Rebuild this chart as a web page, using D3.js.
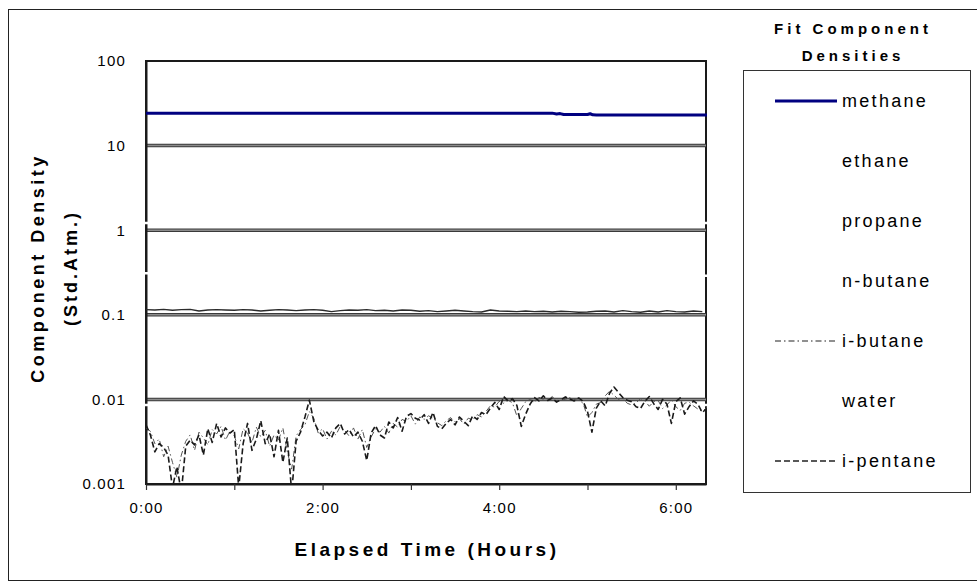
<!DOCTYPE html>
<html>
<head>
<meta charset="utf-8">
<script src="https://cdn.jsdelivr.net/npm/d3@7"></script>
<style>
    body { margin: 0; background: #fff; }
    svg { display: block; font-family: "Liberation Sans", Arial, sans-serif; }
</style>
</head>
<body>
<svg id="chart" width="977" height="588"></svg>
<script>
// logging interval of the gas analyser, hours (3 minutes)
const timeStepHours = 0.05;

const hourTicks = [0, 1, 2, 3, 4, 5, 6];
const hourLabels = ["0:00", "", "2:00", "", "4:00", "", "6:00"];
const densityTicks = [100, 10, 1, 0.1, 0.01, 0.001];
const gridValues = [10, 1, 0.1, 0.01];

const seriesNames = ["methane", "ethane", "propane", "n-butane", "i-butane", "water", "i-pentane"];

// methane is flat, only the step near 4:40 - 5:05 matters
const methaneTimes = [0, 4.60, 4.65, 4.69, 4.73, 4.78, 5.00, 5.03, 5.06, 5.10, 6.40];
const methaneValues = [24.2, 24.2, 23.6, 23.9, 23.3, 23.3, 23.3, 23.8, 23.1, 23.0, 23.0];

const ethaneTimes = [0, 6.40];
const ethaneValues = [1.22, 1.22];

const propaneTimes = [0, 6.40];
const propaneValues = [0.31, 0.29];

const waterTimes = [0, 6.40];
const waterValues = [0.0086, 0.0086];

// n-butane sampled every 6 minutes
const nButaneStepHours = 0.1;
const nButaneValues = [
    0.115, 0.114, 0.116, 0.113, 0.115, 0.116, 0.111, 0.114, 0.115, 0.114,
    0.113, 0.115, 0.114, 0.111, 0.113, 0.115, 0.114, 0.112, 0.114, 0.115,
    0.113, 0.109, 0.112, 0.114, 0.113, 0.115, 0.112, 0.113, 0.111, 0.114,
    0.113, 0.110, 0.112, 0.109, 0.111, 0.113, 0.111, 0.109, 0.108, 0.114,
    0.111, 0.110, 0.109, 0.111, 0.109, 0.110, 0.108, 0.110, 0.109, 0.107,
    0.108, 0.110, 0.111, 0.108, 0.112, 0.109, 0.107, 0.111, 0.108, 0.112,
    0.109, 0.108, 0.111, 0.109
];

const iButaneValues = [
    0.0046, 0.0042, 0.0030, 0.0034, 0.0021, 0.0028, 0.0018, 0.0012, 0.0022, 0.0032,
    0.0038, 0.0025, 0.0041, 0.0035, 0.0029, 0.0044, 0.0039, 0.0048, 0.0033, 0.0042,
    0.0037, 0.0026, 0.0045, 0.0040, 0.0031, 0.0047, 0.0036, 0.0043, 0.0028, 0.0038,
    0.0033, 0.0046, 0.0024, 0.0015, 0.0037, 0.0044, 0.0050, 0.0072, 0.0060, 0.0040,
    0.0045, 0.0034, 0.0042, 0.0038, 0.0048, 0.0043, 0.0037, 0.0046, 0.0034, 0.0044,
    0.0027, 0.0036, 0.0045, 0.0041, 0.0048, 0.0040, 0.0052, 0.0047, 0.0058, 0.0055,
    0.0064, 0.0051, 0.0062, 0.0058, 0.0064, 0.0060, 0.0053, 0.0049, 0.0056, 0.0061,
    0.0054, 0.0059, 0.0051, 0.0060, 0.0057, 0.0066, 0.0062, 0.0072, 0.0084, 0.0081,
    0.0095, 0.0090, 0.0098, 0.0091, 0.0064, 0.0078, 0.0094, 0.0101, 0.0092, 0.0106,
    0.0100, 0.0097, 0.0108, 0.0096, 0.0102, 0.0099, 0.0105, 0.0100, 0.0098, 0.0090,
    0.0062, 0.0070, 0.0088, 0.0092, 0.0110, 0.0125, 0.0112, 0.0100, 0.0103, 0.0090,
    0.0086, 0.0091, 0.0102, 0.0096, 0.0083, 0.0094, 0.0097, 0.0078, 0.0086, 0.0099,
    0.0082, 0.0074, 0.0090, 0.0093, 0.0084, 0.0077, 0.0072, 0.0080
];

const iPentaneValues = [
    0.0050, 0.0038, 0.0024, 0.0030, 0.0027, 0.0022, 0.0009, 0.0016, 0.0008, 0.0028,
    0.0033, 0.0029, 0.0038, 0.0022, 0.0045, 0.0031, 0.0052, 0.0036, 0.0046, 0.0040,
    0.0044, 0.0009, 0.0030, 0.0052, 0.0025, 0.0034, 0.0056, 0.0030, 0.0039, 0.0021,
    0.0043, 0.0018, 0.0035, 0.0008, 0.0032, 0.0041, 0.0062, 0.0098, 0.0055, 0.0043,
    0.0037, 0.0041, 0.0035, 0.0046, 0.0052, 0.0039, 0.0044, 0.0036, 0.0041, 0.0032,
    0.0019, 0.0040, 0.0049, 0.0038, 0.0035, 0.0054, 0.0046, 0.0061, 0.0042, 0.0063,
    0.0068, 0.0060, 0.0057, 0.0066, 0.0052, 0.0070, 0.0048, 0.0045, 0.0052, 0.0058,
    0.0050, 0.0062, 0.0055, 0.0049, 0.0064, 0.0058, 0.0070, 0.0066, 0.0079, 0.0092,
    0.0076, 0.0108, 0.0096, 0.0102, 0.0085, 0.0048, 0.0067, 0.0088, 0.0105, 0.0096,
    0.0110, 0.0097, 0.0104, 0.0093, 0.0099, 0.0107, 0.0101, 0.0096, 0.0104, 0.0095,
    0.0072, 0.0041, 0.0079, 0.0096, 0.0084, 0.0118, 0.0140, 0.0121, 0.0105, 0.0098,
    0.0094, 0.0082, 0.0078, 0.0095, 0.0108, 0.0089, 0.0076, 0.0100, 0.0088, 0.0052,
    0.0094, 0.0104, 0.0067, 0.0082, 0.0096, 0.0088, 0.0070, 0.0078
];

let width = 977;
let height = 588;
let plot = { left: 146, top: 61, right: 706, bottom: 484 };
let textColor = "#000";

function toPoints(times, values) {
    let points = [];
    for (var i = 0; i < values.length; i++) {
        points.push({ "t": times[i], "v": values[i] });
    }
    return points;
}

function toSampledPoints(step, values) {
    let points = [];
    for (var i = 0; i < values.length; i++) {
        points.push({ "t": i * step, "v": values[i] });
    }
    return points;
}

let series = [
    { name: "methane", points: toPoints(methaneTimes, methaneValues), color: "#000080", width: 3, dash: null },
    { name: "ethane", points: toPoints(ethaneTimes, ethaneValues), color: "#ffffff", width: 2.5, dash: null },
    { name: "propane", points: toPoints(propaneTimes, propaneValues), color: "#ffffff", width: 2.5, dash: null },
    { name: "n-butane", points: toSampledPoints(nButaneStepHours, nButaneValues), color: "#2b2b2b", width: 1.4, dash: null },
    { name: "water", points: toPoints(waterTimes, waterValues), color: "#ffffff", width: 2.5, dash: null },
    { name: "i-butane", points: toSampledPoints(timeStepHours, iButaneValues), color: "#555555", width: 1, dash: "6,3,1.5,3" },
    { name: "i-pentane", points: toSampledPoints(timeStepHours, iPentaneValues), color: "#1a1a1a", width: 1.6, dash: "6,3" }
];

// legend samples follow the original ordering
let legendStyle = {
    "methane": { color: "#000080", width: 3, dash: null },
    "ethane": { color: "#ffffff", width: 2, dash: null },
    "propane": { color: "#ffffff", width: 2, dash: null },
    "n-butane": { color: "#ffffff", width: 2, dash: null },
    "i-butane": { color: "#222222", width: 1.2, dash: "6,3,1.5,3" },
    "water": { color: "#ffffff", width: 2, dash: null },
    "i-pentane": { color: "#222222", width: 1.5, dash: "6,3" }
};

let svg = d3.select("#chart");

svg.append("rect")
    .attr("width", width)
    .attr("height", height)
    .attr("fill", "#fff");

// outer chart border
svg.append("rect")
    .attr("x", 8.5)
    .attr("y", 9.5)
    .attr("width", 985)
    .attr("height", 571)
    .attr("fill", "none")
    .attr("stroke", "#222")
    .attr("stroke-width", 1);

let xScale = d3.scaleLinear()
    .domain([0, 6.342])
    .range([plot.left, plot.right]);

let yScale = d3.scaleLog()
    .domain([0.001, 100])
    .range([plot.bottom, plot.top]);

// plot frame
svg.append("rect")
    .attr("x", plot.left)
    .attr("y", plot.top)
    .attr("width", plot.right - plot.left)
    .attr("height", plot.bottom - plot.top)
    .attr("fill", "#fff")
    .attr("stroke", "#1a1a1a")
    .attr("stroke-width", 2);

// add gridlines (grey with dark edges)
svg.selectAll(".gridOuter")
    .data(gridValues)
    .enter()
    .append("line")
    .attr("x1", plot.left)
    .attr("x2", plot.right)
    .attr("y1", function(d) { return yScale(d); })
    .attr("y2", function(d) { return yScale(d); })
    .attr("stroke", "#3a3a3a")
    .attr("stroke-width", 3.5);
svg.selectAll(".gridInner")
    .data(gridValues)
    .enter()
    .append("line")
    .attr("x1", plot.left)
    .attr("x2", plot.right)
    .attr("y1", function(d) { return yScale(d); })
    .attr("y2", function(d) { return yScale(d); })
    .attr("stroke", "#8c8c8c")
    .attr("stroke-width", 1.5);

// x axis
let xAxis = svg.append("g")
    .attr("class", "x_axis")
    .attr("transform", "translate(0," + plot.bottom + ")")
    .call(d3.axisBottom(xScale)
        .tickValues(hourTicks)
        .tickSizeInner(6)
        .tickSizeOuter(0)
        .tickPadding(12)
        .tickFormat(function(d, i) { return hourLabels[i]; }));
xAxis.select(".domain").attr("stroke", "#1a1a1a").attr("stroke-width", 2);
xAxis.selectAll("line").attr("stroke", "#333").attr("stroke-width", 1.2);
xAxis.selectAll("text")
    .style("font-family", "Liberation Sans")
    .style("font-size", "15px")
    .style("letter-spacing", "1.2px")
    .style("fill", textColor);

// y axis
let yAxis = svg.append("g")
    .attr("class", "y_axis")
    .attr("transform", "translate(" + plot.left + ",0)")
    .call(d3.axisLeft(yScale)
        .tickValues(densityTicks)
        .tickSize(0)
        .tickPadding(20)
        .tickFormat(function(d) { return String(d); }));
yAxis.select(".domain").attr("stroke", "#1a1a1a").attr("stroke-width", 2);
yAxis.selectAll("text")
    .style("font-family", "Liberation Sans")
    .style("font-size", "15px")
    .style("letter-spacing", "1.2px")
    .style("fill", textColor);

// clip series to the plot, 1px over the frame like the original
svg.append("clipPath")
    .attr("id", "plotClip")
    .append("rect")
    .attr("x", plot.left - 1)
    .attr("y", plot.top - 1)
    .attr("width", plot.right - plot.left + 2)
    .attr("height", plot.bottom - plot.top + 1);

let line = d3.line()
    .x(function(d) { return xScale(d.t); })
    .y(function(d) { return yScale(d.v); });

// add component lines
svg.append("g")
    .attr("clip-path", "url(#plotClip)")
    .selectAll(".componentLine")
    .data(series)
    .enter()
    .append("path")
    .attr("class", "componentLine")
    .attr("d", function(d) {
        let pts = d.points.slice();
        // flat lines run across the full plot width
        if (pts.length == 2) {
            pts = [{ t: -0.05, v: pts[0].v }, { t: 6.45, v: pts[1].v }];
        }
        return line(pts);
    })
    .attr("fill", "none")
    .attr("stroke", function(d) { return d.color; })
    .attr("stroke-width", function(d) { return d.width; })
    .attr("stroke-linejoin", "round")
    .style("stroke-dasharray", function(d) { return d.dash; });

// add axis titles
svg.append("text")
    .attr("x", 427)
    .attr("y", 556)
    .text("Elapsed Time (Hours)")
    .style("font-family", "Liberation Sans")
    .style("font-weight", "bold")
    .style("text-anchor", "middle")
    .style("font-size", "19px")
    .style("letter-spacing", "3.5px")
    .style("fill", textColor);

svg.append("text")
    .attr("transform", "translate(44,268) rotate(-90)")
    .text("Component Density")
    .style("font-family", "Liberation Sans")
    .style("font-weight", "bold")
    .style("text-anchor", "middle")
    .style("font-size", "18px")
    .style("letter-spacing", "3.5px")
    .style("fill", textColor);

svg.append("text")
    .attr("transform", "translate(77,268) rotate(-90)")
    .text("(Std.Atm.)")
    .style("font-family", "Liberation Sans")
    .style("font-weight", "bold")
    .style("text-anchor", "middle")
    .style("font-size", "18px")
    .style("letter-spacing", "3px")
    .style("fill", textColor);

// add legend title
let legendTitle = ["Fit Component", "Densities"];
svg.selectAll(".legendTitle")
    .data(legendTitle)
    .enter()
    .append("text")
    .attr("x", 853)
    .attr("y", function(d, i) { return 34 + i * 27; })
    .text(function(d) { return d; })
    .style("font-family", "Liberation Sans")
    .style("font-weight", "bold")
    .style("text-anchor", "middle")
    .style("font-size", "15px")
    .style("letter-spacing", "4px")
    .style("fill", textColor);

// add legend box
svg.append("rect")
    .attr("x", 743.5)
    .attr("y", 70.5)
    .attr("width", 227)
    .attr("height", 422)
    .attr("fill", "#fff")
    .attr("stroke", "#333")
    .attr("stroke-width", 1);

let legend = svg.append("g")
    .attr("class", "componentLegend")
    .attr("transform", "translate(775,101)");

let legendRows = legend.selectAll(".legendRow")
    .data(seriesNames)
    .enter()
    .append("g")
    .attr("transform", function(d, i) { return "translate(0," + (i * 60) + ")"; });

legendRows.append("line")
    .attr("x1", 0)
    .attr("x2", 62)
    .attr("stroke", function(d) { return legendStyle[d].color; })
    .attr("stroke-width", function(d) { return legendStyle[d].width; })
    .style("stroke-dasharray", function(d) { return legendStyle[d].dash; });

legendRows.append("text")
    .attr("x", 67)
    .attr("dy", "0.36em")
    .text(function(d) { return d; })
    .style("font-family", "Liberation Sans")
    .style("font-size", "18px")
    .style("letter-spacing", "2.3px")
    .style("fill", textColor);
</script>
</body>
</html>
